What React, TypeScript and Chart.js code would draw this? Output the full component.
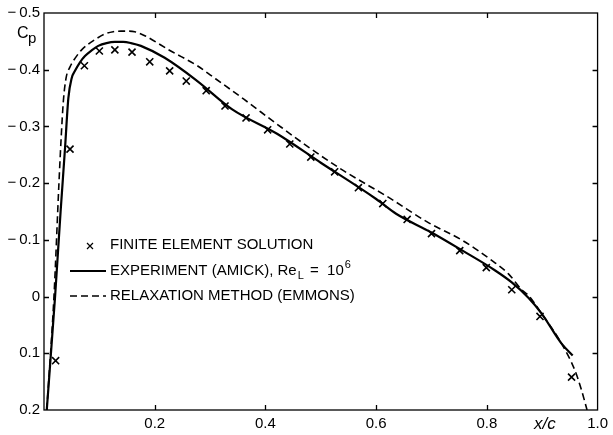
import React, { useEffect, useRef } from "react";
import { Chart, registerables } from "chart.js";

Chart.register(...registerables);

// Finite element solution (crosses)
const feX = [0.021, 0.047, 0.073, 0.1, 0.128, 0.159, 0.191, 0.227, 0.257, 0.293, 0.327, 0.365, 0.404, 0.444, 0.482, 0.525, 0.568, 0.612, 0.656, 0.7, 0.751, 0.799, 0.845, 0.896, 0.953];
const feCp = [0.113, -0.26, -0.407, -0.433, -0.435, -0.431, -0.414, -0.398, -0.38, -0.363, -0.336, -0.315, -0.294, -0.269, -0.246, -0.22, -0.192, -0.164, -0.136, -0.111, -0.081, -0.051, -0.012, 0.035, 0.142];

// Experiment (Amick) solid line
const expX = [0.005, 0.02, 0.03, 0.038, 0.044, 0.05, 0.056, 0.065, 0.074, 0.086, 0.098, 0.113, 0.128, 0.143, 0.157, 0.175, 0.218, 0.277, 0.34, 0.421, 0.5, 0.6, 0.636, 0.7, 0.756, 0.815, 0.845, 0.875, 0.899, 0.935, 0.955];
const expCp = [0.2, 0.0, -0.15, -0.262, -0.35, -0.385, -0.398, -0.413, -0.424, -0.434, -0.442, -0.447, -0.449, -0.449, -0.447, -0.442, -0.421, -0.38, -0.33, -0.287, -0.236, -0.172, -0.146, -0.113, -0.081, -0.046, -0.025, 0.002, 0.03, 0.083, 0.104];

// Relaxation method (Emmons) dashed line
const relX = [0.005, 0.018, 0.027, 0.031, 0.035, 0.04, 0.047, 0.056, 0.068, 0.08, 0.095, 0.11, 0.125, 0.139, 0.152, 0.164, 0.182, 0.229, 0.277, 0.3, 0.361, 0.421, 0.48, 0.541, 0.624, 0.695, 0.756, 0.81, 0.839, 0.863, 0.875, 0.899, 0.935, 0.959, 0.971, 0.981];
const relCp = [0.2, 0.0, -0.2, -0.28, -0.345, -0.386, -0.405, -0.42, -0.435, -0.445, -0.455, -0.463, -0.467, -0.468, -0.468, -0.467, -0.46, -0.433, -0.407, -0.391, -0.348, -0.304, -0.262, -0.222, -0.174, -0.13, -0.099, -0.063, -0.04, -0.012, -0.002, 0.03, 0.083, 0.13, 0.165, 0.2];

const xTicks = [0, 0.2, 0.4, 0.6, 0.8, 1.0];
const yTicks = [-0.5, -0.4, -0.3, -0.2, -0.1, 0, 0.1, 0.2];

const legendLabels = ["FINITE ELEMENT SOLUTION", "EXPERIMENT (AMICK), Re", "RELAXATION METHOD (EMMONS)"];
const yAxisTitle = ["C", "p"];
const xAxisTitle = "x/c";

const FONT = "'Liberation Sans', Arial, sans-serif";

const toPts = (xs: number[], ys: number[]) => xs.map((x, i) => ({ x, y: ys[i] }));

const fmtY = (v: number) => {
  if (Math.abs(v) < 1e-9) return "0";
  if (v < 0) return "\u2212\u2009" + Math.abs(v).toFixed(1);
  return v.toFixed(1);
};

const decorPlugin = {
  id: "decor",
  afterDraw(chart: any) {
    const { ctx, chartArea, scales } = chart;
    const { left, right, top, bottom } = chartArea;
    ctx.save();
    ctx.strokeStyle = "#000";
    ctx.lineWidth = 1.3;
    ctx.setLineDash([]);
    ctx.strokeRect(left, top, right - left, bottom - top);
    const L = 5;
    ctx.beginPath();
    scales.x.ticks.forEach((t: any) => {
      if (t.value <= 0 || t.value >= 1) return;
      const px = Math.round(scales.x.getPixelForValue(t.value)) + 0.5;
      ctx.moveTo(px, bottom);
      ctx.lineTo(px, bottom - L);
      ctx.moveTo(px, top);
      ctx.lineTo(px, top + L);
    });
    scales.y.ticks.forEach((t: any) => {
      if (t.value <= -0.5 || t.value >= 0.2) return;
      const py = Math.round(scales.y.getPixelForValue(t.value)) + 0.5;
      ctx.moveTo(left, py);
      ctx.lineTo(left + L, py);
      ctx.moveTo(right, py);
      ctx.lineTo(right - L, py);
    });
    ctx.stroke();

    ctx.fillStyle = "#000";
    ctx.textBaseline = "alphabetic";
    ctx.textAlign = "left";
    // y axis title
    ctx.font = `16px ${FONT}`;
    ctx.fillText(yAxisTitle[0], left - 27, top + 25);
    ctx.font = `15px ${FONT}`;
    ctx.fillText(yAxisTitle[1], left - 16, top + 30);
    // x axis title
    ctx.font = `italic 17px ${FONT}`;
    ctx.fillText(xAxisTitle, left + 490, bottom + 19);

    // legend
    const lx = left + 26;
    const tx = left + 66;
    const rows = [top + 232, top + 258, top + 283];
    ctx.font = `15px ${FONT}`;
    ctx.textBaseline = "middle";
    // row 1: cross
    ctx.lineWidth = 1.2;
    ctx.beginPath();
    const cx = left + 46, cy = rows[0] + 1, r = 3;
    ctx.moveTo(cx - r, cy - r); ctx.lineTo(cx + r, cy + r);
    ctx.moveTo(cx + r, cy - r); ctx.lineTo(cx - r, cy + r);
    ctx.stroke();
    ctx.fillText(legendLabels[0], tx, rows[0]);
    // row 2: solid
    ctx.lineWidth = 2.2;
    ctx.beginPath();
    ctx.moveTo(lx, rows[1]); ctx.lineTo(lx + 36, rows[1]);
    ctx.stroke();
    ctx.fillText(legendLabels[1], tx, rows[1]);
    const w = ctx.measureText(legendLabels[1]).width;
    ctx.font = `11px ${FONT}`;
    ctx.fillText("L", tx + w + 1, rows[1] + 5);
    const wl = ctx.measureText("L").width;
    ctx.font = `15px ${FONT}`;
    const eq = " =  10";
    ctx.fillText(eq, tx + w + wl + 3, rows[1]);
    const we = ctx.measureText(eq).width;
    ctx.font = `11px ${FONT}`;
    ctx.fillText("6", tx + w + wl + we + 4, rows[1] - 6);
    // row 3: dashed
    ctx.font = `15px ${FONT}`;
    ctx.lineWidth = 1.6;
    ctx.setLineDash([7, 4]);
    ctx.beginPath();
    ctx.moveTo(lx, rows[2]); ctx.lineTo(lx + 36, rows[2]);
    ctx.stroke();
    ctx.setLineDash([]);
    ctx.fillText(legendLabels[2], tx, rows[2]);
    ctx.restore();
  },
};

export default function App() {
  const ref = useRef<HTMLCanvasElement | null>(null);
  useEffect(() => {
    document.body.style.margin = "0";
    if (!ref.current) return;
    const chart = new Chart(ref.current, {
      type: "scatter",
      data: {
        datasets: [
          {
            label: legendLabels[1],
            data: toPts(expX, expCp),
            showLine: true,
            borderColor: "#000",
            borderWidth: 2.2,
            pointRadius: 0,
            cubicInterpolationMode: "monotone",
          } as any,
          {
            label: legendLabels[2],
            data: toPts(relX, relCp),
            showLine: true,
            borderColor: "#000",
            borderWidth: 1.6,
            borderDash: [7, 4],
            pointRadius: 0,
            cubicInterpolationMode: "monotone",
          } as any,
          {
            label: legendLabels[0],
            data: toPts(feX, feCp),
            showLine: false,
            pointStyle: "crossRot",
            pointRadius: 5,
            borderColor: "#000",
            borderWidth: 1.6,
            backgroundColor: "#000",
          } as any,
        ],
      },
      options: {
        animation: false,
        responsive: false,
        layout: { padding: { top: 13, right: 9, left: 0, bottom: 0 } },
        plugins: { legend: { display: false }, tooltip: { enabled: false } },
        scales: {
          x: {
            type: "linear",
            min: 0,
            max: 1,
            grid: { display: false, drawTicks: false },
            border: { display: false },
            afterBuildTicks: (s: any) => {
              s.ticks = xTicks.map((v) => ({ value: v }));
            },
            afterFit: (s: any) => {
              s.height = 25;
            },
            ticks: {
              color: "#000",
              padding: 5,
              maxRotation: 0,
              autoSkip: false,
              font: { family: FONT, size: 15 },
              callback: (v: any) => (Number(v) === 0 ? "" : Number(v).toFixed(1)),
            },
          },
          y: {
            type: "linear",
            min: -0.5,
            max: 0.2,
            reverse: true,
            grid: { display: false, drawTicks: false },
            border: { display: false },
            afterBuildTicks: (s: any) => {
              s.ticks = yTicks.map((v) => ({ value: v }));
            },
            afterFit: (s: any) => {
              s.width = 44;
            },
            ticks: {
              color: "#000",
              padding: 4,
              autoSkip: false,
              font: { family: FONT, size: 15 },
              callback: (v: any) => fmtY(Number(v)),
            },
          },
        },
      },
      plugins: [decorPlugin],
    });
    return () => chart.destroy();
  }, []);
  return (
    <div style={{ width: 613, height: 435, background: "#fff" }}>
      <canvas ref={ref} width={613} height={435} />
    </div>
  );
}
